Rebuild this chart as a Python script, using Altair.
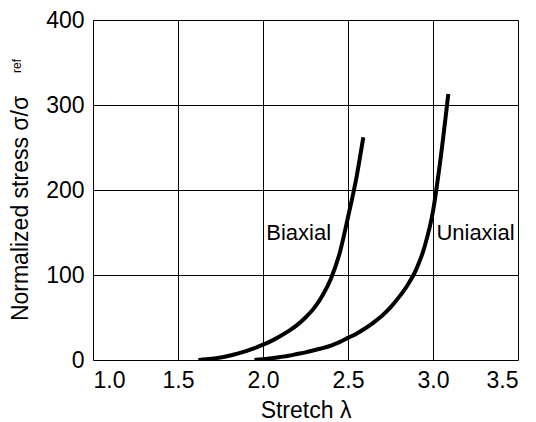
import altair as alt
import pandas as pd

# Biaxial curve
bi_x = [1.62, 1.65, 1.7, 1.75, 1.8, 1.85, 1.9, 1.95, 2.0, 2.05, 2.1, 2.15, 2.2,
        2.25, 2.3, 2.35, 2.4, 2.45, 2.5, 2.55, 2.59]
bi_y = [0, 0.5, 1.5, 3, 5, 7.5, 10.5, 14, 18, 22.5, 28, 34, 41,
        50, 61, 76, 96, 125, 168, 215, 262]
# Uniaxial curve
uni_x = [1.95, 2.0, 2.05, 2.1, 2.15, 2.2, 2.25, 2.3, 2.35, 2.4, 2.45, 2.5, 2.55,
         2.6, 2.65, 2.7, 2.75, 2.8, 2.85, 2.9, 2.95, 3.0, 3.04, 3.09]
uni_y = [0, 1, 2, 3.5, 5, 7, 9, 11.5, 14, 17, 21, 26, 31,
         37, 44, 52, 62, 74, 88, 106, 133, 175, 230, 313]

label_text = ["Biaxial", "Uniaxial"]
label_x = [2.21, 3.25]
label_y = [149, 149]

x_ticks = [1.0, 1.5, 2.0, 2.5, 3.0, 3.5]
y_ticks = [0, 100, 200, 300, 400]

FONT = "Liberation Sans"
FS = 23

df = pd.concat([
    pd.DataFrame({"x": bi_x, "y": bi_y, "s": "Biaxial", "o": range(len(bi_x))}),
    pd.DataFrame({"x": uni_x, "y": uni_y, "s": "Uniaxial", "o": range(len(uni_x))}),
])
lab = pd.DataFrame({"t": label_text, "x": label_x, "y": label_y})

xs = alt.Scale(domain=[1.0, 3.5], nice=False)
ys = alt.Scale(domain=[0, 400], nice=False)

lines = alt.Chart(df).mark_line(color="black", strokeWidth=4, clip=True,
                                interpolate="monotone").encode(
    x=alt.X("x:Q", scale=xs, axis=alt.Axis(
        values=x_ticks, format=".1f", title="Stretch λ", grid=True,
        gridColor="black", gridWidth=1, gridOpacity=1, domain=False, ticks=False,
        labelFont=FONT, labelFontSize=FS, labelColor="black", labelPadding=9,
        titleFont=FONT, titleFontSize=FS, titleFontWeight="normal", titleColor="black",
        titleY=57, titleBaseline="alphabetic")),
    y=alt.Y("y:Q", scale=ys, axis=alt.Axis(
        values=y_ticks, format="d", title="Normalized stress σ/σ", grid=True,
        gridColor="black", gridWidth=1, gridOpacity=1, domain=False, ticks=False,
        labelFont=FONT, labelFontSize=FS, labelColor="black", labelPadding=9,
        titleFont=FONT, titleFontSize=FS, titleFontWeight="normal", titleColor="black",
        titleAngle=270, titleX=-66, titleY=188, titleAlign="center",
        titleBaseline="alphabetic")),
    detail="s:N",
    order="o:Q",
)

texts = alt.Chart(lab).mark_text(font=FONT, fontSize=22, color="black",
                                 align="center", baseline="middle").encode(
    x=alt.X("x:Q", scale=xs), y=alt.Y("y:Q", scale=ys), text="t:N")

sub = alt.Chart(pd.DataFrame({"t": ["ref"]})).mark_text(
    font=FONT, fontSize=12, color="black", angle=270, align="center",
    baseline="alphabetic").encode(
    x=alt.value(-72), y=alt.value(46), text="t:N")

chart = alt.layer(lines, texts, sub).properties(
    width=425, height=340,
    autosize=alt.AutoSizeParams(type="none"),
    padding={"left": 93, "top": 20, "right": 18, "bottom": 62},
).configure_view(stroke="black", strokeWidth=3).configure(background="white")

chart.save("out.html", embed_options={"renderer": "svg", "actions": False})
